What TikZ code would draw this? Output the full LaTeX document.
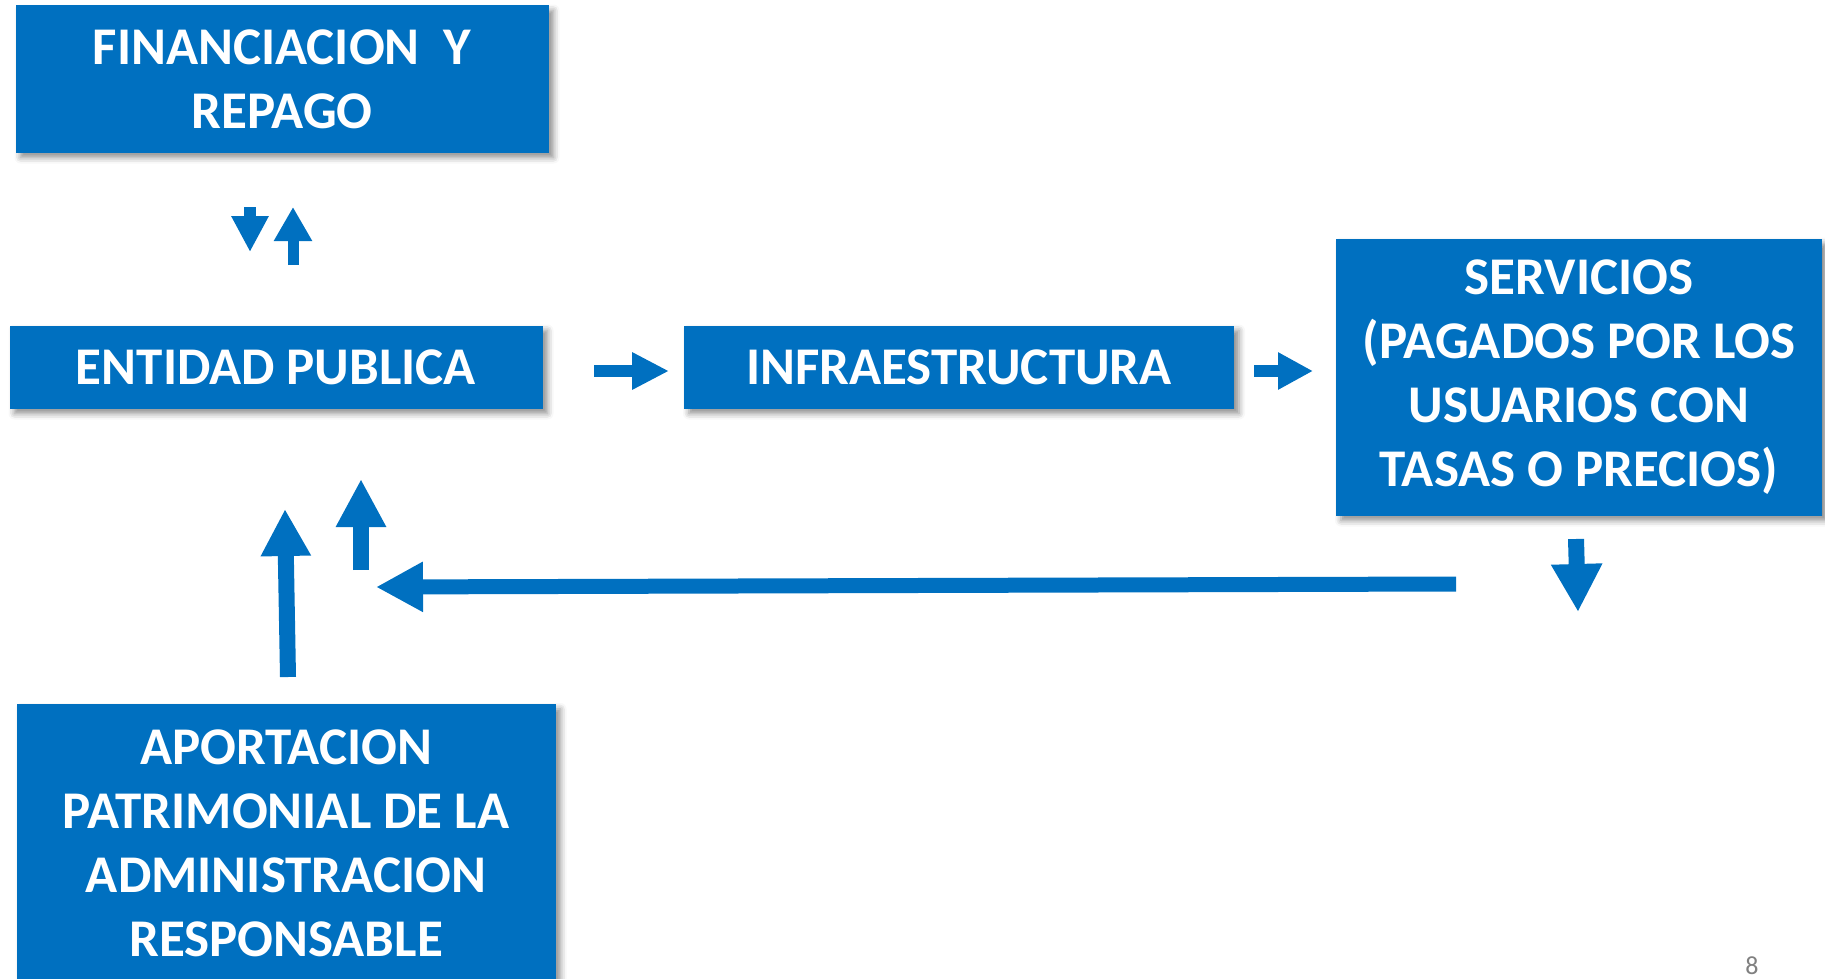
\documentclass[tikz,border=0pt]{standalone}
\usepackage{fontspec}
\setmainfont{Carlito}
\usetikzlibrary{arrows.meta,shadows.blur}
\definecolor{boxblue}{HTML}{0070C0}
\tikzset{
  box/.style={fill=boxblue, text=white, inner sep=0pt, align=center,
    font=\bfseries\fontsize{53}{64}\selectfont,
    blur shadow={shadow xshift=5pt, shadow yshift=-5pt, shadow blur radius=6pt, shadow opacity=45}},
  flow/.style n args={3}{draw=boxblue, line width=#1, -{Triangle[length=#2, width=#3]}}
}
\begin{document}
\begin{tikzpicture}[x=1pt, y=-1pt]
\useasboundingbox (0,0) rectangle (1825,979);

\coordinate (fin-dn-a) at (250,207);
\coordinate (fin-dn-b) at (250,252);
\coordinate (fin-up-a) at (293,265);
\coordinate (fin-up-b) at (293,207);
\coordinate (ent-rt-a) at (594,371);
\coordinate (ent-rt-b) at (669,371);
\coordinate (inf-rt-a) at (1254,371);
\coordinate (inf-rt-b) at (1313,371);
\coordinate (serv-dn-a) at (1576,539);
\coordinate (serv-dn-b) at (1578,612);
\coordinate (ret-a) at (1456,584);
\coordinate (ret-b) at (376,587);
\coordinate (apor-up-a) at (288,677);
\coordinate (apor-up-b) at (285,509);
\coordinate (ret-up-a) at (361,570);
\coordinate (ret-up-b) at (361,479);

\node[box, minimum width=533pt, minimum height=147pt] (fin) at (282,79) {FINANCIACION\ \ Y\\REPAGO};
\node[box, minimum width=533pt, minimum height=83pt] (ent) at (276,367) {ENTIDAD PUBLICA};
\node[box, minimum width=550pt, minimum height=83pt] (inf) at (959,367) {INFRAESTRUCTURA};
\node[box, minimum width=486pt, minimum height=277pt] (serv) at (1579,377)
  {SERVICIOS\\(PAGADOS POR LOS\\USUARIOS CON\\TASAS O PRECIOS)};
\node[box, minimum width=539pt, minimum height=278pt] (apor) at (286,843)
  {APORTACION\\PATRIMONIAL DE LA\\ADMINISTRACION\\RESPONSABLE};
\node[text=gray, font=\fontsize{26}{30}\selectfont] (page) at (1752,966) {8};

\draw[flow={12pt}{36pt}{35pt}] (fin-dn-a) -- (fin-dn-b);
\draw[flow={11pt}{34pt}{36pt}] (fin-up-a) -- (fin-up-b);
\draw[flow={12pt}{37pt}{35pt}] (ent-rt-a) -- (ent-rt-b);
\draw[flow={12pt}{35pt}{35pt}] (inf-rt-a) -- (inf-rt-b);
\draw[flow={16pt}{48pt}{48pt}] (serv-dn-a) -- (serv-dn-b);
\draw[flow={15pt}{47pt}{47pt}] (ret-a) -- (ret-b);
\draw[flow={16pt}{47pt}{47pt}] (apor-up-a) -- (apor-up-b);
\draw[flow={16pt}{48pt}{47pt}] (ret-up-a) -- (ret-up-b);
\end{tikzpicture}
\end{document}
